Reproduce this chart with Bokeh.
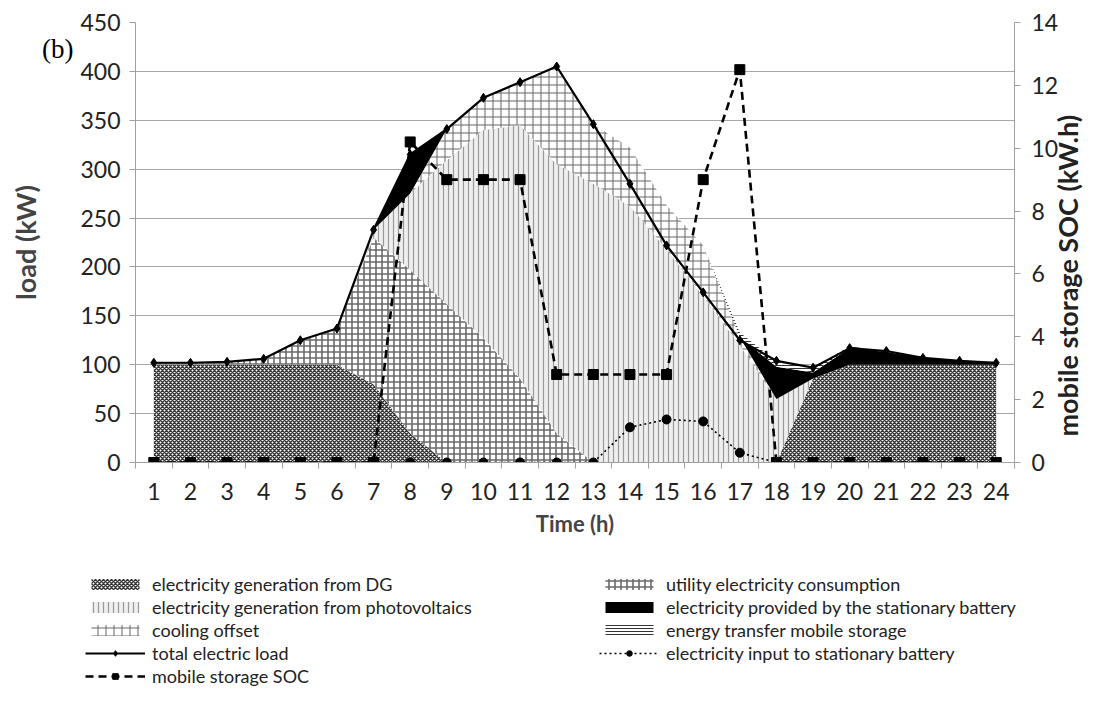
import math
from bokeh.plotting import figure
from bokeh.models import (Range1d, LinearAxis, FixedTicker, Legend, LegendItem,
                          ColumnDataSource)
from bokeh.layouts import column
from bokeh.transform import stack
from bokeh.embed import file_html
from bokeh.resources import INLINE

# ---------------- data ----------------
hours = list(range(1, 25))
dg = [100, 100, 100, 100, 100, 100, 80, 30, 0, 0, 0, 0, 0, 0, 0, 0, 0, 0, 86, 100, 100, 100, 100, 100]
utility = [2, 2, 3, 6, 25, 37, 150, 167, 162, 127, 86, 30, 0, 0, 0, 0, 0, 0, 0, 0, 0, 0, 0, 0]
pv = [0, 0, 0, 0, 0, 0, 8, 78, 147, 213, 259, 275, 285, 262, 218, 170, 120, 65, 0, 0, 0, 0, 0, 0]
cooling = [0, 0, 0, 0, 0, 0, 0, 0, 32, 33, 44, 100, 61, 60, 45, 52, 8, 0, 0, 0, 0, 0, 0, 0]
battery = [0, 0, 0, 0, 0, 0, 0, 40, 0, 0, 0, 0, 0, 0, 0, 0, 0, 33, 6, 17, 13, 7, 4, 2]
transfer = [0, 0, 0, 0, 0, 0, 0, 0, 0, 0, 0, 0, 0, 0, 0, 0, 5, 5, 5, 2, 0, 0, 0, 0]
total_load = [102, 102, 103, 106, 125, 137, 238, 315, 341, 373, 389, 405, 346, 285, 222, 174, 125, 104, 97, 117, 114, 107, 104, 102]
soc = [0, 0, 0, 0, 0, 0, 0, 10.2, 9.0, 9.0, 9.0, 2.8, 2.8, 2.8, 2.8, 9.0, 12.5, 0, 0, 0, 0, 0, 0, 0]
batt_input = [0, 0, 0, 0, 0, 0, 0, 0, 0, 0, 0, 0, 0, 36, 44, 42, 10, 0, 0, 0, 0, 0, 0, 0]

left_ticks = list(range(0, 451, 50))
right_ticks = list(range(0, 15, 2))

legend_col1 = ["electricity generation from DG", "electricity generation from photovoltaics",
               "cooling offset", "total electric load", "mobile storage SOC"]
legend_col2 = ["utility electricity consumption", "electricity provided by the stationary battery",
               "energy transfer mobile storage", "electricity input to stationary battery"]

FONT = "Lato"

styles = {
    "dg": dict(fill_color="white", hatch_pattern="diagonal_cross", hatch_color="#333333",
               hatch_scale=4, hatch_weight=1.5),
    "utility": dict(fill_color="white", hatch_pattern="cross", hatch_color="#6a6a6a",
                    hatch_scale=6, hatch_weight=1.6),
    "pv": dict(fill_color="#efefef", hatch_pattern="vertical_line", hatch_color="#999999",
               hatch_scale=5, hatch_weight=1.2),
    "cooling": dict(fill_color="white", hatch_pattern="cross", hatch_color="#666666",
                    hatch_scale=8, hatch_weight=1),
    "battery": dict(fill_color="black"),
    "transfer": dict(fill_color="white", hatch_pattern="horizontal_line", hatch_color="#333333",
                     hatch_scale=3, hatch_weight=1),
}
order = ["dg", "utility", "pv", "cooling", "battery", "transfer"]

src = ColumnDataSource(dict(hour=hours, dg=dg, utility=utility, pv=pv, cooling=cooling,
                            battery=battery, transfer=transfer, load=total_load,
                            soc=soc, batt_in=batt_input))

W = 1103
p = figure(width=W, height=560, output_backend="svg", toolbar_location=None,
           x_range=Range1d(0.5, 24.5), y_range=Range1d(0, 450),
           min_border_left=135, min_border_right=W - 1015, min_border_top=22, min_border_bottom=98)
p.outline_line_color = None
p.background_fill_color = "white"

p.xgrid.grid_line_color = None
p.ygrid.ticker = FixedTicker(ticks=left_ticks)
p.ygrid.grid_line_color = "#a8a8a8"
p.ygrid.grid_line_width = 1

# stacked areas
done = []
for name in order:
    y1 = stack(*done) if done else 0
    p.varea(x="hour", y1=y1, y2=stack(*done, name), source=src, **styles[name])
    done.append(name)

# lines
p.extra_y_ranges = {"soc": Range1d(0, 14)}
p.line("hour", "batt_in", source=src, line_color="black", line_width=1.6, line_dash="2 3")
p.scatter("hour", "batt_in", source=src, marker="circle", size=9, color="black")
p.line("hour", "load", source=src, line_color="black", line_width=2.2)
p.scatter("hour", "load", source=src, marker="diamond", size=9, color="black")
p.line("hour", "soc", source=src, y_range_name="soc", line_color="black",
       line_width=2.6, line_dash="8 5")
p.scatter("hour", "soc", source=src, y_range_name="soc", marker="square", size=10, color="black")

# axes
xa = p.xaxis[0]
xa.ticker = FixedTicker(ticks=hours, minor_ticks=[h + 0.5 for h in range(0, 25)])
xa.major_tick_out = 0
xa.major_tick_in = 0
xa.minor_tick_out = 6
xa.minor_tick_in = 0
xa.minor_tick_line_color = "#a0a0a0"
xa.axis_line_color = "#a0a0a0"
xa.major_label_standoff = 14
xa.major_label_text_font = FONT
xa.major_label_text_font_size = "23px"
xa.major_label_text_color = "#222222"
xa.axis_label = "Time (h)"
xa.axis_label_text_font = FONT
xa.axis_label_text_font_style = "bold"
xa.axis_label_text_font_size = "22px"
xa.axis_label_standoff = 7

ya = p.yaxis[0]
ya.ticker = FixedTicker(ticks=left_ticks)
ya.major_tick_out = 6
ya.major_tick_in = 0
ya.minor_tick_out = 0
ya.minor_tick_in = 0
ya.major_tick_line_color = "#a0a0a0"
ya.axis_line_color = "#a0a0a0"
ya.major_label_standoff = 9
ya.major_label_text_font = FONT
ya.major_label_text_font_size = "23px"
ya.major_label_text_color = "#222222"
ya.axis_label = "load (kW)"
ya.axis_label_text_font = FONT
ya.axis_label_text_font_style = "bold"
ya.axis_label_text_font_size = "27px"
ya.axis_label_standoff = 35

# panel tag "(b)": an extra, line-less axis whose single tick label is the tag
tag_axis = LinearAxis(ticker=FixedTicker(ticks=[423]), major_label_overrides={423: "(b)"})
tag_axis.axis_line_color = None
tag_axis.major_tick_line_color = None
tag_axis.minor_tick_line_color = None
tag_axis.major_tick_out = 0
tag_axis.major_tick_in = 0
tag_axis.major_label_standoff = -67
tag_axis.major_label_text_font = "Liberation Serif"
tag_axis.major_label_text_font_size = "27px"
tag_axis.major_label_text_color = "black"
p.add_layout(tag_axis, "left")

ra = LinearAxis(y_range_name="soc", ticker=FixedTicker(ticks=right_ticks))
ra.major_tick_out = 6
ra.major_tick_in = 0
ra.minor_tick_out = 0
ra.minor_tick_in = 0
ra.major_tick_line_color = "#a0a0a0"
ra.axis_line_color = "#a0a0a0"
ra.major_label_standoff = 11
ra.major_label_text_font = FONT
ra.major_label_text_font_size = "23px"
ra.major_label_text_color = "#222222"
p.add_layout(ra, "right")

# right axis title, reading bottom-to-top: a line-less axis with one rotated label
SOC_TITLE_AT = 8.1
ttl_axis = LinearAxis(y_range_name="soc", ticker=FixedTicker(ticks=[SOC_TITLE_AT]),
                      major_label_overrides={SOC_TITLE_AT: "mobile storage SOC (kW.h)"})
ttl_axis.axis_line_color = None
ttl_axis.major_tick_line_color = None
ttl_axis.minor_tick_line_color = None
ttl_axis.major_tick_out = 0
ttl_axis.major_tick_in = 0
ttl_axis.major_label_standoff = 6
ttl_axis.major_label_orientation = math.pi / 2
ttl_axis.major_label_text_font = FONT
ttl_axis.major_label_text_font_style = "bold"
ttl_axis.major_label_text_font_size = "27px"
ttl_axis.major_label_text_color = "#222222"
p.add_layout(ttl_axis, "right")

# ---------------- legend strip (separate canvas below) ----------------
LH = 158
q = figure(width=W, height=LH, output_backend="svg", toolbar_location=None,
           x_range=Range1d(0, 1), y_range=Range1d(0, 1),
           x_axis_location=None, y_axis_location=None, min_border=0)
q.frame_align = False
q.outline_line_color = None
q.grid.visible = False

dummy = ColumnDataSource(dict(x=[-5, -4], y0=[0, 0], y1=[1, 1]))
lr = {}
for name in order:
    lr[name] = q.varea(x="x", y1="y0", y2="y1", source=dummy, **styles[name])
lr["load"] = [q.line("x", "y0", source=dummy, line_color="black", line_width=2.2),
              q.scatter("x", "y0", source=dummy, marker="diamond", size=9, color="black")]
lr["soc"] = [q.line("x", "y0", source=dummy, line_color="black", line_width=2.6, line_dash="8 5"),
             q.scatter("x", "y0", source=dummy, marker="square", size=10, color="black")]
lr["in"] = [q.line("x", "y0", source=dummy, line_color="black", line_width=1.6, line_dash="2 3"),
            q.scatter("x", "y0", source=dummy, marker="circle", size=9, color="black")]

col1_r = [[lr["dg"]], [lr["pv"]], [lr["cooling"]], lr["load"], lr["soc"]]
col2_r = [[lr["utility"]], [lr["battery"]], [lr["transfer"]], lr["in"]]
items = [LegendItem(label=t, renderers=r) for t, r in zip(legend_col1, col1_r)]
items += [LegendItem(label=t, renderers=r) for t, r in zip(legend_col2, col2_r)]

legend = Legend(items=items, location=(85, 31), orientation="vertical", nrows=5,
                label_text_font=FONT, label_text_font_size="18px", label_text_color="#222222",
                glyph_width=60, glyph_height=14, label_height=18, label_standoff=7, label_width=446,
                spacing=1, padding=0, margin=0,
                background_fill_alpha=0, border_line_alpha=0)
q.add_layout(legend)

layout = column(p, q, spacing=0)
open("out.html", "w").write(file_html(layout, INLINE))
